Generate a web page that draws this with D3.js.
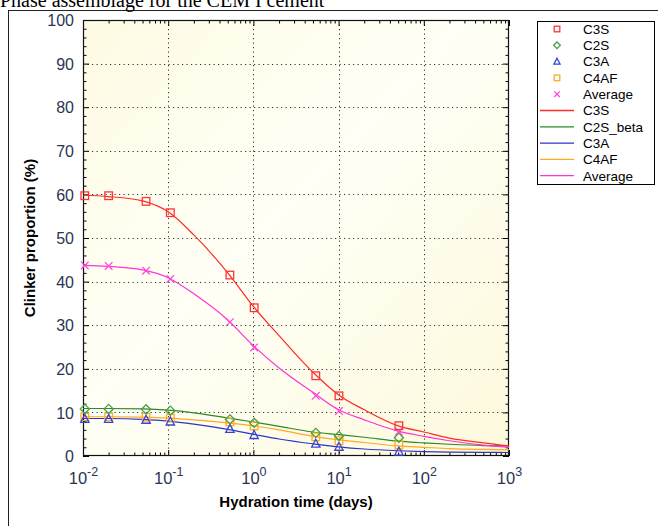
<!DOCTYPE html>
<html><head><meta charset="utf-8">
<script src="https://cdn.jsdelivr.net/npm/d3@7"></script>
<style>body{margin:0;background:#fff;}svg{display:block;}</style>
</head><body>
<svg id="c" width="658" height="526"></svg>
<script>
// ---- data ----
const markerTimes = [0.0105, 0.02, 0.055, 0.106, 0.53, 1.02, 5.4, 10.1, 51];
const c3sPts  = [59.7, 59.7, 58.4, 55.8, 41.5, 34.0, 18.4, 13.8, 6.95];
const c2sPts  = [10.8, 10.8, 10.7, 10.4, 8.4, 7.6, 5.3, 4.6, 4.2];
const c3aPts  = [8.5, 8.5, 8.3, 7.9, 6.2, 4.8, 2.8, 2.1, 1.0];
const c4afPts = [9.0, 9.0, 8.9, 8.7, 7.8, 6.9, 4.4, 3.5, 2.5];
const avgPts  = [43.7, 43.6, 42.5, 40.6, 30.7, 24.9, 13.8, 10.3, 5.6];

const lineTimes = [0.01, 0.02, 0.05, 0.1, 0.2, 0.5, 1, 2, 5, 10, 20, 50, 100, 200, 500, 1000];
const c3sLine  = [59.8, 59.5, 58.5, 56.0, 50.7, 42.0, 34.3, 27.6, 19.2, 14.0, 10.6, 6.9, 5.5, 4.1, 3.0, 2.3];
const c2sLine  = [10.9, 10.9, 10.8, 10.5, 9.9, 8.7, 7.8, 6.8, 5.5, 4.9, 4.3, 3.4, 3.0, 2.7, 2.4, 2.3];
const c3aLine  = [8.6, 8.6, 8.4, 8.0, 7.3, 6.1, 5.0, 3.9, 2.8, 2.1, 1.6, 1.2, 1.0, 0.9, 0.85, 0.8];
const c4afLine = [9.0, 9.0, 8.9, 8.7, 8.3, 7.6, 6.9, 6.0, 4.5, 3.7, 3.1, 2.3, 2.0, 1.7, 1.5, 1.4];
const avgLine  = [43.7, 43.5, 42.7, 40.9, 37.2, 31.2, 25.3, 20.2, 14.6, 10.6, 8.3, 5.7, 4.5, 3.5, 2.5, 2.0];

const xMajorExps = [-2, -1, 0, 1, 2, 3];
const yMajorTicks = [0, 10, 20, 30, 40, 50, 60, 70, 80, 90, 100];
const legendMarkerNames = ["C3S", "C2S", "C3A", "C4AF", "Average"];
const legendLineNames = ["C3S", "C2S_beta", "C3A", "C4AF", "Average"];
const titleText = "Phase assemblage for the CEM I cement";
const xTitle = "Hydration time (days)";
const yTitle = "Clinker proportion (%)";

// ---- setup ----
const svg = d3.select("#c");
const L = 83, R = 509, T = 20, B = 456;
const x = d3.scaleLog().domain([0.01, 1000]).range([L, R]);
const y = d3.scaleLinear().domain([0, 100]).range([B, T]);
const font = "'Liberation Sans', Arial, sans-serif";
const tickCol = "#2b3553";

// outer frame
svg.append("rect").attr("x", 8.5).attr("y", 10.5).attr("width", 700).attr("height", 600)
  .attr("fill", "none").attr("stroke", "#222").attr("stroke-width", 1);

// title (its top is cut by the page edge, as in the reference)
svg.append("text").attr("x", 0).attr("y", 7).attr("font-family", "'Liberation Serif', 'Times New Roman', serif")
  .attr("font-size", 20).attr("fill", "#000").text(titleText);

// plot background gradient
const defs = svg.append("defs");
const g = defs.append("linearGradient").attr("id", "bg").attr("x1", "0").attr("y1", "0").attr("x2", "1").attr("y2", "1");
g.append("stop").attr("offset", "0%").attr("stop-color", "#fefbe3");
g.append("stop").attr("offset", "45%").attr("stop-color", "#fffff6");
g.append("stop").attr("offset", "100%").attr("stop-color", "#fdf9dc");
svg.append("rect").attr("x", L).attr("y", T).attr("width", R - L).attr("height", B - T).attr("fill", "url(#bg)");

// grid
const grid = svg.append("g").attr("stroke", "#333").attr("stroke-width", 1).attr("stroke-dasharray", "1.2,3.3");
xMajorExps.slice(1, -1).forEach(e => {
  const xx = Math.round(x(Math.pow(10, e))) + 0.5;
  grid.append("line").attr("x1", xx).attr("x2", xx).attr("y1", T).attr("y2", B);
});
yMajorTicks.slice(1, -1).forEach(v => {
  const yy = Math.round(y(v)) + 0.5;
  grid.append("line").attr("x1", L).attr("x2", R).attr("y1", yy).attr("y2", yy);
});

// axes
const minorX = x.ticks().filter(t => Math.abs(Math.log10(t) - Math.round(Math.log10(t))) > 1e-6);
const majorX = xMajorExps.map(e => Math.pow(10, e));
const minorY = d3.range(0, 101, 2).filter(v => v % 10 !== 0);

function styleAxis(sel) {
  sel.selectAll(".domain").remove();
  sel.selectAll("line").attr("stroke", "#000");
}
svg.append("g").attr("transform", `translate(0,${B})`).call(d3.axisBottom(x).tickValues(minorX).tickSize(-3.5).tickFormat("")).call(styleAxis);
svg.append("g").attr("transform", `translate(0,${T})`).call(d3.axisTop(x).tickValues(minorX).tickSize(-3.5).tickFormat("")).call(styleAxis);
svg.append("g").attr("transform", `translate(0,${T})`).call(d3.axisTop(x).tickValues(majorX).tickSize(-6).tickFormat("")).call(styleAxis);
const xb = svg.append("g").attr("transform", `translate(0,${B})`).call(d3.axisBottom(x).tickValues(majorX).tickSize(-6).tickFormat("")).call(styleAxis);
xb.selectAll(".tick").each(function(d) {
  const e = Math.round(Math.log10(d));
  const t = d3.select(this).append("text").attr("y", 28).attr("fill", tickCol)
    .attr("font-family", font).attr("font-size", 16.5).attr("text-anchor", "middle");
  t.append("tspan").text("10");
  t.append("tspan").attr("dy", -8).attr("font-size", 12.5).text(String(e));
});

svg.append("g").attr("transform", `translate(${L},0)`).call(d3.axisLeft(y).tickValues(minorY).tickSize(-3.5).tickFormat("")).call(styleAxis);
svg.append("g").attr("transform", `translate(${R},0)`).call(d3.axisRight(y).tickValues(minorY).tickSize(-3.5).tickFormat("")).call(styleAxis);
svg.append("g").attr("transform", `translate(${R},0)`).call(d3.axisRight(y).tickValues(yMajorTicks).tickSize(-6).tickFormat("")).call(styleAxis);
const yl = svg.append("g").attr("transform", `translate(${L},0)`).call(d3.axisLeft(y).tickValues(yMajorTicks).tickSize(-6).tickFormat(d => d)).call(styleAxis);
yl.selectAll("text").attr("x", -9).attr("dy", "0.36em").attr("fill", tickCol).attr("font-family", font).attr("font-size", 16);

// frame
svg.append("rect").attr("x", L + 0.5).attr("y", T + 0.5).attr("width", R - L - 1).attr("height", B - T - 1)
  .attr("fill", "none").attr("stroke", "#111").attr("stroke-width", 1.2);

// axis titles
svg.append("text").attr("x", (L + R) / 2).attr("y", 507).attr("text-anchor", "middle")
  .attr("font-family", font).attr("font-weight", "bold").attr("font-size", 15).attr("fill", "#000").text(xTitle);
svg.append("text").attr("transform", `translate(35,${(T + B) / 2}) rotate(-90)`).attr("text-anchor", "middle")
  .attr("font-family", font).attr("font-weight", "bold").attr("font-size", 15).attr("fill", "#000").text(yTitle);

// series
const colors = { c3s: "#ff2a2a", c2s: "#2a8a2a", c3a: "#2a36c8", c4af: "#ffa726", avg: "#ff33d6" };
const mcolors = { c3s: "#ff3333", c2s: "#44a044", c3a: "#3a44d8", c4af: "#ffaa22", avg: "#ff44dd" };
const lineGen = d3.line().x(d => x(d[0])).y(d => y(d[1])).curve(d3.curveMonotoneX);
const plot = svg.append("g");
[["c2s", c2sLine], ["c4af", c4afLine], ["c3a", c3aLine], ["avg", avgLine], ["c3s", c3sLine]].forEach(([k, arr]) => {
  plot.append("path").datum(lineTimes.map((t, i) => [t, arr[i]]))
    .attr("fill", "none").attr("stroke", colors[k]).attr("stroke-width", 1.2).attr("d", lineGen);
});

function marker(sel, type, cx, cy, col, s) {
  if (type === "square") {
    sel.append("rect").attr("x", cx - s).attr("y", cy - s).attr("width", 2 * s).attr("height", 2 * s)
      .attr("fill", "none").attr("stroke", col).attr("stroke-width", 1.3);
  } else if (type === "diamond") {
    sel.append("path").attr("d", `M${cx},${cy - s * 1.2}L${cx + s * 1.2},${cy}L${cx},${cy + s * 1.2}L${cx - s * 1.2},${cy}Z`)
      .attr("fill", "none").attr("stroke", col).attr("stroke-width", 1.3);
  } else if (type === "triangle") {
    sel.append("path").attr("d", `M${cx},${cy - s * 1.2}L${cx + s * 1.1},${cy + s * 0.9}L${cx - s * 1.1},${cy + s * 0.9}Z`)
      .attr("fill", "none").attr("stroke", col).attr("stroke-width", 1.3);
  } else if (type === "x") {
    sel.append("path").attr("d", `M${cx - s},${cy - s}L${cx + s},${cy + s}M${cx - s},${cy + s}L${cx + s},${cy - s}`)
      .attr("fill", "none").attr("stroke", col).attr("stroke-width", 1.2);
  }
}
const mSeries = [["c4af", c4afPts, "square"], ["c3a", c3aPts, "triangle"], ["c2s", c2sPts, "diamond"], ["avg", avgPts, "x"], ["c3s", c3sPts, "square"]];
mSeries.forEach(([k, arr, type]) => {
  arr.forEach((v, i) => marker(plot, type, x(markerTimes[i]), y(v), mcolors[k], 3.8));
});

// legend
const lg = svg.append("g");
lg.append("rect").attr("x", 537.5).attr("y", 21.5).attr("width", 117).attr("height", 163)
  .attr("fill", "#fff").attr("stroke", "#000").attr("stroke-width", 1);
const lTypes = [["c3s", "square"], ["c2s", "diamond"], ["c3a", "triangle"], ["c4af", "square"], ["avg", "x"]];
legendMarkerNames.forEach((n, i) => {
  const yy = 29 + i * 16.3;
  marker(lg, lTypes[i][1], 557, yy, mcolors[lTypes[i][0]], 2.8);
  lg.append("text").attr("x", 583).attr("y", yy).attr("dy", "0.36em").attr("font-family", font)
    .attr("font-size", 13.5).attr("fill", "#000").text(n);
});
const lKeys = ["c3s", "c2s", "c3a", "c4af", "avg"];
legendLineNames.forEach((n, i) => {
  const yy = 29 + (i + 5) * 16.3;
  lg.append("line").attr("x1", 540).attr("x2", 574).attr("y1", yy).attr("y2", yy)
    .attr("stroke", colors[lKeys[i]]).attr("stroke-width", 1.3);
  lg.append("text").attr("x", 583).attr("y", yy).attr("dy", "0.36em").attr("font-family", font)
    .attr("font-size", 13.5).attr("fill", "#000").text(n);
});
</script>
</body></html>
